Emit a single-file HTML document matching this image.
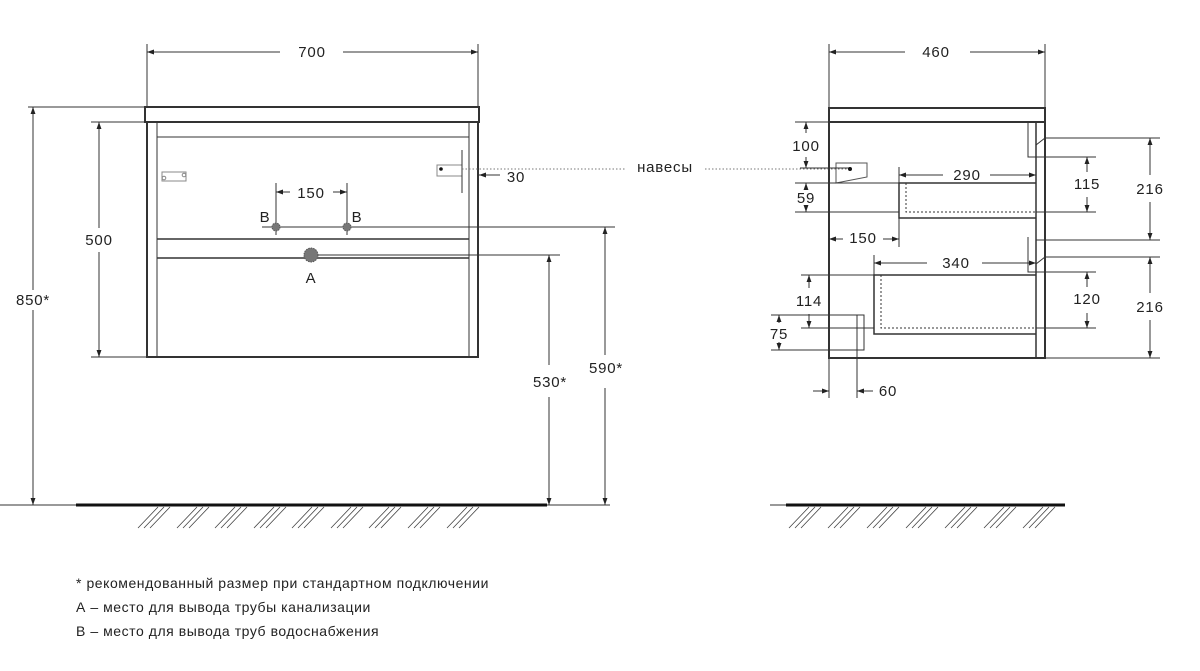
<!DOCTYPE html>
<html><head><meta charset="utf-8"><style>
html,body{margin:0;padding:0;background:#fff}
svg{display:block}
text{font-family:"Liberation Sans",sans-serif;fill:#222}
</style></head><body>
<svg width="1200" height="671" viewBox="0 0 1200 671" xmlns="http://www.w3.org/2000/svg">
<defs>
<marker id="a" viewBox="0 0 10 10" refX="10" refY="5" markerWidth="7" markerHeight="7" orient="auto-start-reverse"><path d="M0,1.5L10,5L0,8.5z" fill="#222"/></marker>
</defs>
<g stroke="#333" stroke-width="1" fill="none">
<line x1="147" y1="44" x2="147" y2="107"/><line x1="478" y1="44" x2="478" y2="107"/>
<line x1="147" y1="52" x2="280" y2="52" marker-start="url(#a)"/><line x1="343" y1="52" x2="478" y2="52" marker-end="url(#a)"/>
<rect x="145" y="107" width="334" height="15" stroke-width="2"/>
<rect x="147" y="122" width="331" height="235" stroke-width="2"/>
<line x1="157" y1="122" x2="157" y2="357"/><line x1="469" y1="122" x2="469" y2="357"/>
<line x1="157" y1="137" x2="469" y2="137"/>
<line x1="157" y1="239" x2="469" y2="239" stroke-width="1.5"/>
<line x1="157" y1="258" x2="469" y2="258" stroke-width="1.5"/>
<rect x="162" y="172" width="24" height="9" stroke="#888"/>
<circle cx="164" cy="178" r="1.8" stroke="#888"/><circle cx="184" cy="175" r="1.8" stroke="#888"/>
<rect x="437" y="165" width="25" height="11" stroke="#888"/>
<line x1="462" y1="150" x2="462" y2="193"/>
<line x1="28" y1="107" x2="145" y2="107"/>
<line x1="33" y1="107" x2="33" y2="290" marker-start="url(#a)"/><line x1="33" y1="310" x2="33" y2="505" marker-end="url(#a)"/>
<line x1="91" y1="122" x2="147" y2="122"/><line x1="91" y1="357" x2="147" y2="357"/>
<line x1="99" y1="122" x2="99" y2="228" marker-start="url(#a)"/><line x1="99" y1="252" x2="99" y2="357" marker-end="url(#a)"/>
<line x1="276" y1="183" x2="276" y2="235"/><line x1="347" y1="183" x2="347" y2="235"/>
<line x1="276" y1="192" x2="290" y2="192" marker-start="url(#a)"/><line x1="333" y1="192" x2="347" y2="192" marker-end="url(#a)"/>
<line x1="262" y1="227" x2="615" y2="227"/>
<line x1="311" y1="255" x2="560" y2="255"/>
<line x1="549" y1="255" x2="549" y2="365" marker-start="url(#a)"/><line x1="549" y1="397" x2="549" y2="505" marker-end="url(#a)"/>
<line x1="605" y1="227" x2="605" y2="355" marker-start="url(#a)"/><line x1="605" y1="388" x2="605" y2="505" marker-end="url(#a)"/>
<line x1="500" y1="175" x2="479" y2="175" marker-end="url(#a)"/>
<line x1="462" y1="169" x2="625" y2="169" stroke-dasharray="1.5,2" stroke="#777"/>
<line x1="705" y1="169" x2="850" y2="169" stroke-dasharray="1.5,2" stroke="#777"/>
<line x1="0" y1="505" x2="76" y2="505"/>
<line x1="76" y1="505" x2="547" y2="505" stroke="#111" stroke-width="3"/>
<line x1="547" y1="505" x2="610" y2="505"/>
<line x1="770" y1="505" x2="786" y2="505"/>
<line x1="786" y1="505" x2="1065" y2="505" stroke="#111" stroke-width="3"/>

<line x1="829" y1="44" x2="829" y2="107"/><line x1="1045" y1="44" x2="1045" y2="107"/>
<line x1="829" y1="52" x2="905" y2="52" marker-start="url(#a)"/><line x1="970" y1="52" x2="1045" y2="52" marker-end="url(#a)"/>
<rect x="829" y="108" width="216" height="14" stroke-width="2"/>
<rect x="829" y="122" width="216" height="236" stroke-width="2"/>
<line x1="1036" y1="122" x2="1036" y2="358" stroke-width="1.5"/>
<path d="M1028,122V157H1036M1036,145L1045,138"/>
<path d="M1028,237V272H1036M1036,240H1045M1036,264L1045,257"/>
<path d="M1036,183H899V218H1036" stroke-width="1.5"/>
<path d="M906,183V212H1036" stroke-dasharray="2,2"/>
<path d="M1036,275H874V334H1036" stroke-width="1.5"/>
<path d="M881,275V328H1036" stroke-dasharray="2,2"/>
<path d="M829,350H864V315H857V398"/>
<polygon points="836,163 867,163 867,177 836,183" stroke="#555"/>
<line x1="899" y1="167" x2="899" y2="247"/>
<line x1="899" y1="175" x2="943" y2="175" marker-start="url(#a)"/><line x1="990" y1="175" x2="1036" y2="175" marker-end="url(#a)"/>
<line x1="829" y1="239" x2="843" y2="239" marker-start="url(#a)"/><line x1="883" y1="239" x2="899" y2="239" marker-end="url(#a)"/>
<line x1="874" y1="255" x2="874" y2="275"/>
<line x1="874" y1="263" x2="927" y2="263" marker-start="url(#a)"/><line x1="982" y1="263" x2="1036" y2="263" marker-end="url(#a)"/>
<line x1="795" y1="122" x2="829" y2="122"/>
<line x1="806" y1="122" x2="806" y2="133" marker-start="url(#a)"/><line x1="806" y1="157" x2="806" y2="168" marker-end="url(#a)"/>
<line x1="800" y1="168" x2="850" y2="168"/>
<line x1="795" y1="183" x2="899" y2="183"/><line x1="795" y1="212" x2="899" y2="212"/>
<line x1="806" y1="183" x2="806" y2="190" marker-start="url(#a)"/><line x1="806" y1="205" x2="806" y2="212" marker-end="url(#a)"/>
<line x1="801" y1="275" x2="874" y2="275"/><line x1="801" y1="328" x2="874" y2="328"/>
<line x1="809" y1="275" x2="809" y2="288" marker-start="url(#a)"/><line x1="809" y1="314" x2="809" y2="328" marker-end="url(#a)"/>
<line x1="771" y1="315" x2="857" y2="315"/><line x1="771" y1="350" x2="829" y2="350"/>
<line x1="779" y1="315" x2="779" y2="323" marker-start="url(#a)"/><line x1="779" y1="342" x2="779" y2="350" marker-end="url(#a)"/>
<line x1="829" y1="358" x2="829" y2="398"/>
<line x1="813" y1="391" x2="829" y2="391" marker-end="url(#a)"/><line x1="873" y1="391" x2="857" y2="391" marker-end="url(#a)"/>
<line x1="1036" y1="157" x2="1096" y2="157"/><line x1="1036" y1="212" x2="1096" y2="212"/>
<line x1="1087" y1="157" x2="1087" y2="172" marker-start="url(#a)"/><line x1="1087" y1="197" x2="1087" y2="212" marker-end="url(#a)"/>
<line x1="1036" y1="272" x2="1096" y2="272"/><line x1="1036" y1="328" x2="1096" y2="328"/>
<line x1="1087" y1="272" x2="1087" y2="287" marker-start="url(#a)"/><line x1="1087" y1="313" x2="1087" y2="328" marker-end="url(#a)"/>
<line x1="1045" y1="138" x2="1160" y2="138"/><line x1="1045" y1="240" x2="1160" y2="240"/>
<line x1="1045" y1="257" x2="1160" y2="257"/><line x1="1045" y1="358" x2="1160" y2="358"/>
<line x1="1150" y1="138" x2="1150" y2="175" marker-start="url(#a)"/><line x1="1150" y1="202" x2="1150" y2="240" marker-end="url(#a)"/>
<line x1="1150" y1="257" x2="1150" y2="293" marker-start="url(#a)"/><line x1="1150" y1="320" x2="1150" y2="358" marker-end="url(#a)"/>
</g>
<g fill="#777" stroke="#555" stroke-dasharray="1.5,1">
<circle cx="276" cy="227" r="4"/><circle cx="347" cy="227" r="4"/><circle cx="311" cy="255" r="7"/>
</g>
<circle cx="441" cy="169" r="1.8" fill="#111"/><circle cx="850" cy="169" r="2" fill="#111"/>
<g stroke="#444" stroke-width="0.8">
<path d="M158,507L138,528M164,507L144,528M170,507L150,528 M197,507L177,528M203,507L183,528M209,507L189,528 M235,507L215,528M241,507L221,528M247,507L227,528 M274,507L254,528M280,507L260,528M286,507L266,528 M312,507L292,528M318,507L298,528M324,507L304,528 M351,507L331,528M357,507L337,528M363,507L343,528 M389,507L369,528M395,507L375,528M401,507L381,528 M428,507L408,528M434,507L414,528M440,507L420,528 M467,507L447,528M473,507L453,528M479,507L459,528"/>
<path d="M809,507L789,528M815,507L795,528M821,507L801,528 M848,507L828,528M854,507L834,528M860,507L840,528 M887,507L867,528M893,507L873,528M899,507L879,528 M926,507L906,528M932,507L912,528M938,507L918,528 M965,507L945,528M971,507L951,528M977,507L957,528 M1004,507L984,528M1010,507L990,528M1016,507L996,528 M1043,507L1023,528M1049,507L1029,528M1055,507L1035,528"/>
</g>
<g font-size="15" letter-spacing="0.8">
<text x="312" y="57" text-anchor="middle">700</text>
<text x="936" y="57" text-anchor="middle">460</text>
<text x="33" y="305" text-anchor="middle">850*</text>
<text x="99" y="245" text-anchor="middle">500</text>
<text x="311" y="198" text-anchor="middle">150</text>
<text x="265" y="222" text-anchor="middle">B</text>
<text x="357" y="222" text-anchor="middle">B</text>
<text x="311" y="283" text-anchor="middle">A</text>
<text x="516" y="182" text-anchor="middle">30</text>
<text x="665" y="172" text-anchor="middle">навесы</text>
<text x="550" y="387" text-anchor="middle">530*</text>
<text x="606" y="373" text-anchor="middle">590*</text>
<text x="806" y="151" text-anchor="middle">100</text>
<text x="806" y="203" text-anchor="middle">59</text>
<text x="967" y="180" text-anchor="middle">290</text>
<text x="863" y="243" text-anchor="middle">150</text>
<text x="956" y="268" text-anchor="middle">340</text>
<text x="1087" y="189" text-anchor="middle">115</text>
<text x="1087" y="304" text-anchor="middle">120</text>
<text x="1150" y="194" text-anchor="middle">216</text>
<text x="1150" y="312" text-anchor="middle">216</text>
<text x="809" y="306" text-anchor="middle">114</text>
<text x="779" y="339" text-anchor="middle">75</text>
<text x="888" y="396" text-anchor="middle">60</text>
</g>
<g font-size="14" letter-spacing="0.55">
<text x="76" y="588">* рекомендованный размер при стандартном подключении</text>
<text x="76" y="612">А – место для вывода трубы канализации</text>
<text x="76" y="636">В – место для вывода труб водоснабжения</text>
</g>
</svg>
</body></html>
